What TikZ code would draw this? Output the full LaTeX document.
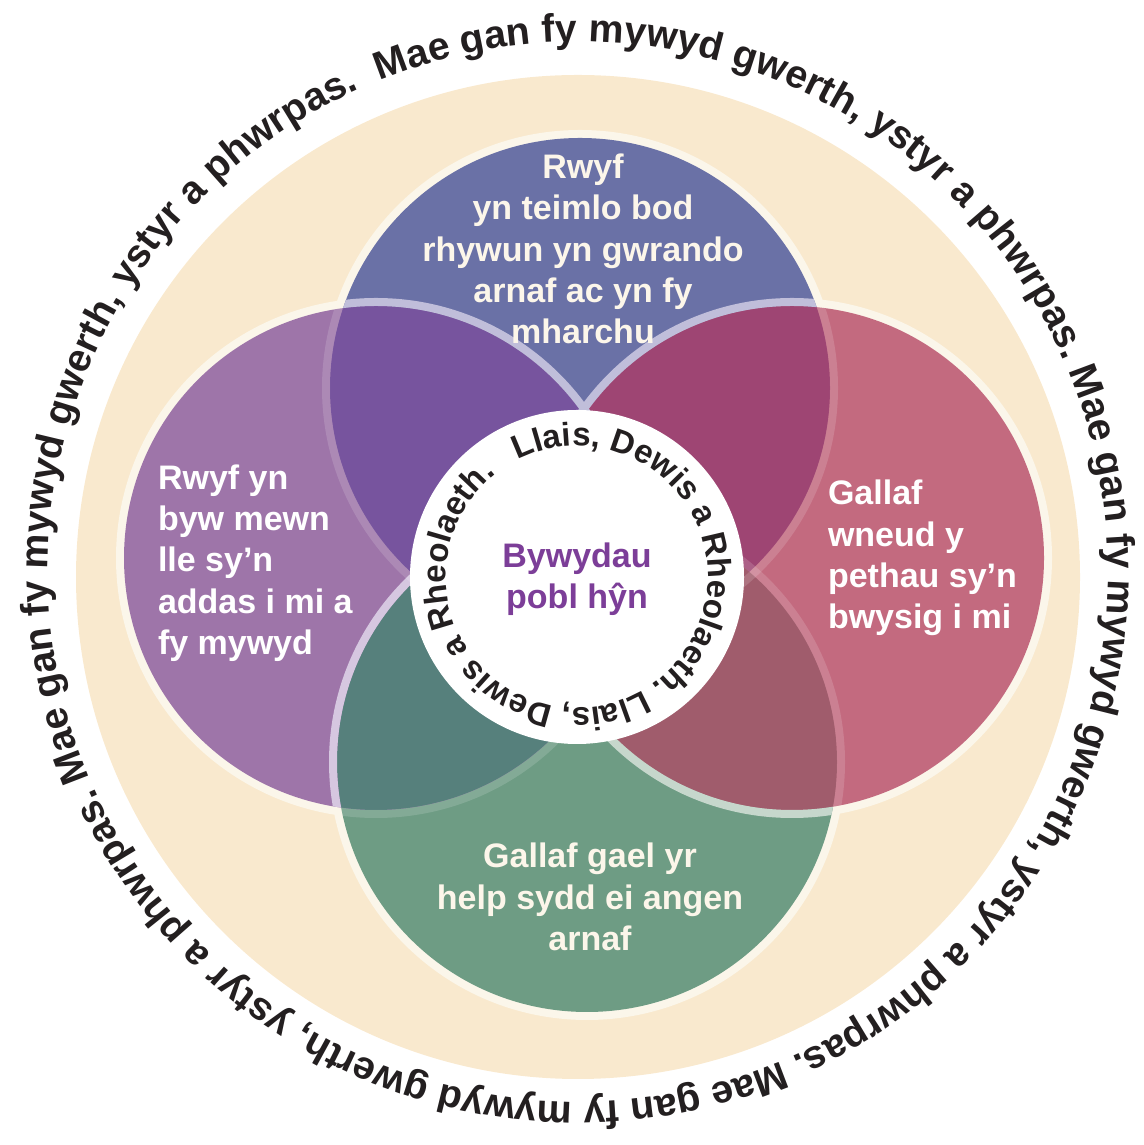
\documentclass[tikz,border=0pt]{standalone}
\usepackage{fontspec}
\setmainfont{Liberation Sans}
\usetikzlibrary{decorations.text}
\definecolor{sand}{RGB}{249,233,206}
\definecolor{rim}{RGB}{251,246,234}
\definecolor{topblue}{RGB}{106,113,166}
\definecolor{leftmauve}{RGB}{158,117,169}
\definecolor{rightrose}{RGB}{195,106,127}
\definecolor{lowgreen}{RGB}{110,156,132}
\definecolor{tlpurple}{RGB}{119,84,158}
\definecolor{trplum}{RGB}{158,69,115}
\definecolor{blteal}{RGB}{86,128,124}
\definecolor{brrose}{RGB}{160,92,108}
\definecolor{lavrim}{RGB}{192,190,218}
\definecolor{lilacrim}{RGB}{214,199,224}
\definecolor{greenrim}{RGB}{198,215,204}
\definecolor{hubpurple}{RGB}{124,62,152}
\definecolor{ink}{RGB}{35,31,32}
\definecolor{petalink}{RGB}{252,246,234}
\begin{document}
\begin{tikzpicture}[x=0.5pt, y=0.5pt, inner sep=0pt, outer sep=0pt,
  petaltext/.style={font=\fontsize{17}{20.65}\selectfont\bfseries, text=petalink},
  hubtext/.style={font=\fontsize{17}{20.5}\selectfont\bfseries, text=hubpurple, align=center},
  faintrim/.style={white, opacity=0.15, line width=4pt}]
\useasboundingbox (0,0) rectangle (1144,1145);
\coordinate (mid) at (578,568);
\coordinate (ctop) at (580,757);
\coordinate (cleft) at (376,587);
\coordinate (cright) at (792,587);
\coordinate (cbottom) at (587,383);
\coordinate (chub) at (577,568);
\fill[sand] (mid) circle[radius=502];
\fill[rim] (ctop) circle[radius=258];
\fill[rim] (cbottom) circle[radius=258];
\fill[rim] (cleft) circle[radius=260];
\fill[rim] (cright) circle[radius=260];
\fill[topblue] (ctop) circle[radius=250];
\fill[lowgreen] (cbottom) circle[radius=250];
\fill[leftmauve] (cleft) circle[radius=252];
\fill[rightrose] (cright) circle[radius=252];
\begin{scope}
  \clip (ctop) circle[radius=250];
  \fill[tlpurple] (cleft) circle[radius=252];
  \fill[trplum] (cright) circle[radius=252];
  \draw[lavrim, line width=4pt] (cleft) circle[radius=256];
  \draw[lavrim, line width=4pt] (cright) circle[radius=256];
\end{scope}
\begin{scope}
  \clip (cbottom) circle[radius=250];
  \fill[blteal] (cleft) circle[radius=252];
  \fill[brrose] (cright) circle[radius=252];
  \draw[greenrim, line width=4pt] (cright) circle[radius=256];
  \draw[faintrim] (cleft) circle[radius=256];
\end{scope}
\begin{scope}
  \clip (cleft) circle[radius=252];
  \draw[lilacrim, line width=4pt] (cbottom) circle[radius=254];
  \draw[faintrim] (ctop) circle[radius=254];
\end{scope}
\begin{scope}
  \clip (cright) circle[radius=252];
  \draw[faintrim] (ctop) circle[radius=254];
  \draw[faintrim] (cbottom) circle[radius=254];
\end{scope}
\fill[white] (chub) circle[radius=167];
\path[decorate, decoration={text along path, text color=ink,
  text={|\fontsize{19.65}{20}\selectfont\bfseries|Mae gan fy mywyd gwerth, ystyr a phwrpas. Mae gan fy mywyd gwerth, ystyr a phwrpas. Mae gan fy mywyd gwerth, ystyr a phwrpas. Mae gan fy mywyd gwerth, ystyr a phwrpas.}}]
  (578,573) ++(112:530) arc[start angle=112, end angle=-248, radius=530];
\path[decorate, decoration={text along path, text color=ink,
  text={|\fontsize{16.5}{17}\selectfont\bfseries|Llais, Dewis a Rheolaeth. Llais, Dewis a Rheolaeth.}}]
  (chub) ++(117:131) arc[start angle=117, end angle=-243, radius=131];
\node[petaltext, align=center] (toptext) at (583,896) {Rwyf\\yn teimlo bod\\rhywun yn gwrando\\arnaf ac yn fy\\mharchu};
\node[petaltext, align=left, anchor=west, text=white] (lefttext) at (158,582) {Rwyf yn\\byw mewn\\lle sy’n\\addas i mi a\\fy mywyd};
\node[petaltext, align=left, anchor=west, text=white] (righttext) at (828,587) {Gallaf\\wneud y\\pethau sy’n\\bwysig i mi};
\node[petaltext, align=center] (lowtext) at (590,248) {Gallaf gael yr\\help sydd ei angen\\arnaf};
\node[hubtext] (hubtext) at (577,566) {Bywydau\\pobl hŷn};
\end{tikzpicture}
\end{document}
